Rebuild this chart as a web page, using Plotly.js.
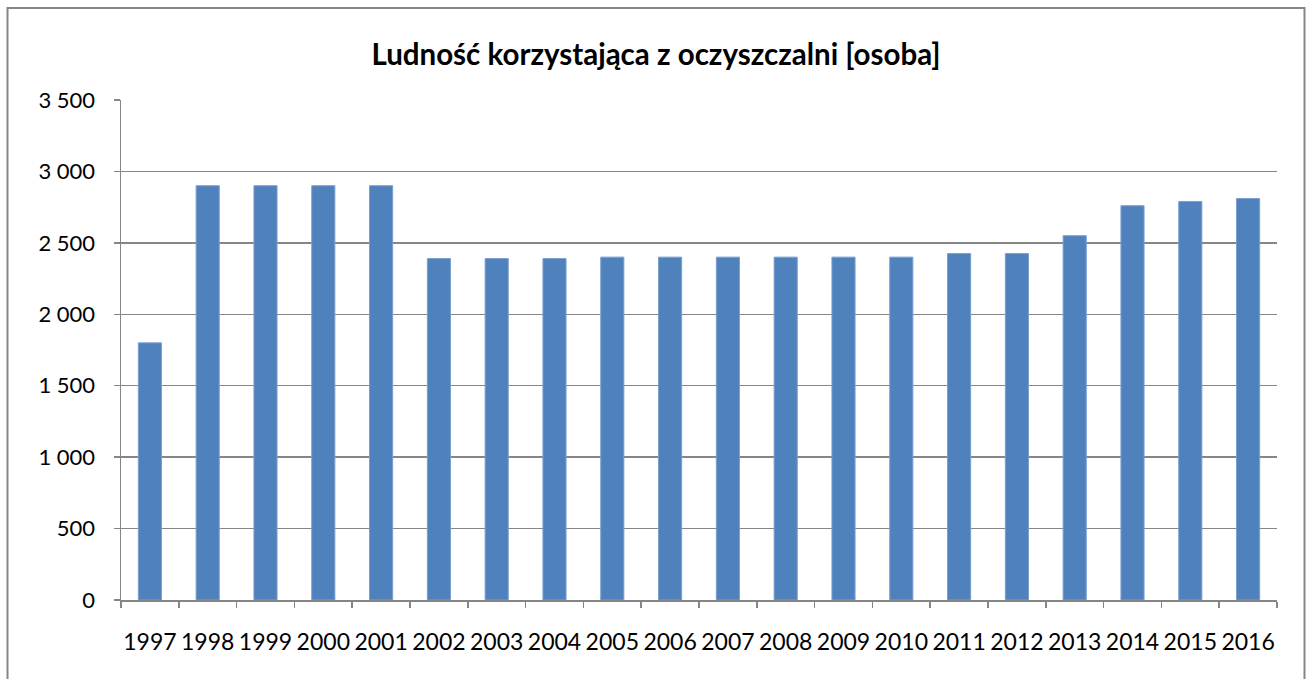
<!DOCTYPE html>
<html>
<head>
<meta charset="utf-8">
<script src="https://cdn.plot.ly/plotly-3.0.1.min.js"></script>
<style>html,body{margin:0;padding:0;background:#fff;}#chart{width:1311px;height:679px;}</style>
</head>
<body>
<div id="chart"></div>
<script>
const years = ["1997","1998","1999","2000","2001","2002","2003","2004","2005","2006","2007","2008","2009","2010","2011","2012","2013","2014","2015","2016"];
const population = [1800,2900,2900,2900,2900,2390,2390,2390,2400,2400,2400,2400,2400,2400,2425,2425,2550,2760,2790,2810];
const yTicks = [0,500,1000,1500,2000,2500,3000,3500];
const yTickText = ["0","500","1 000","1 500","2 000","2 500","3 000","3 500"];
const chartTitle = "Ludność korzystająca z oczyszczalni [osoba]";

const W = 1311, H = 679, L = 121, R = 34, T = 100, B = 79;
const pw = W - L - R, ph = H - T - B;
const px = v => (v - L) / pw;
const py = v => (H - B - v) / ph;

Plotly.newPlot('chart', [{
  type: 'bar',
  x: years,
  y: population,
  marker: {color: '#4F81BD', line: {color: '#7a9fd0', width: 1}},
  hoverinfo: 'x+y'
}], {
  width: W, height: H,
  margin: {l: L, r: R, t: T, b: B, pad: 0},
  paper_bgcolor: '#fff', plot_bgcolor: '#fff',
  bargap: 0.6,
  font: {family: 'Lato, "Open Sans", sans-serif', color: '#000'},
  title: {text: '<b>' + chartTitle + '</b>', font: {size: 29.5, family: 'Lato, sans-serif', color: '#000'}, x: 656/W, xref: 'container', y: 1 - 55/H, yref: 'container', yanchor: 'middle', xanchor: 'center'},
  xaxis: {
    type: 'category',
    tickson: 'boundaries',
    tickangle: 0,
    ticks: 'outside', ticklen: 6, tickcolor: '#868686', tickwidth: 1.5,
    showline: true, linecolor: '#868686', linewidth: 1.5,
    showgrid: false, zeroline: false,
    tickfont: {size: 23, color: '#000'},
    ticklabelstandoff: 21
  },
  yaxis: {
    range: [0, 3500],
    tickvals: yTicks, ticktext: yTickText,
    ticks: 'outside', ticklen: 6, tickcolor: '#868686', tickwidth: 1.5,
    showline: true, linecolor: '#868686', linewidth: 1.5,
    showgrid: true, gridcolor: '#868686', gridwidth: 1.4,
    zeroline: false,
    tickfont: {size: 22, color: '#000'},
    ticklabelstandoff: 14
  },
  shapes: [{
    type: 'rect', xref: 'paper', yref: 'paper',
    x0: px(7.5), x1: px(1304.5), y0: py(720), y1: py(8),
    line: {color: '#868686', width: 2}, fillcolor: 'rgba(0,0,0,0)', layer: 'below'
  }],
  showlegend: false
}, {displayModeBar: false, staticPlot: true});
</script>
</body>
</html>
